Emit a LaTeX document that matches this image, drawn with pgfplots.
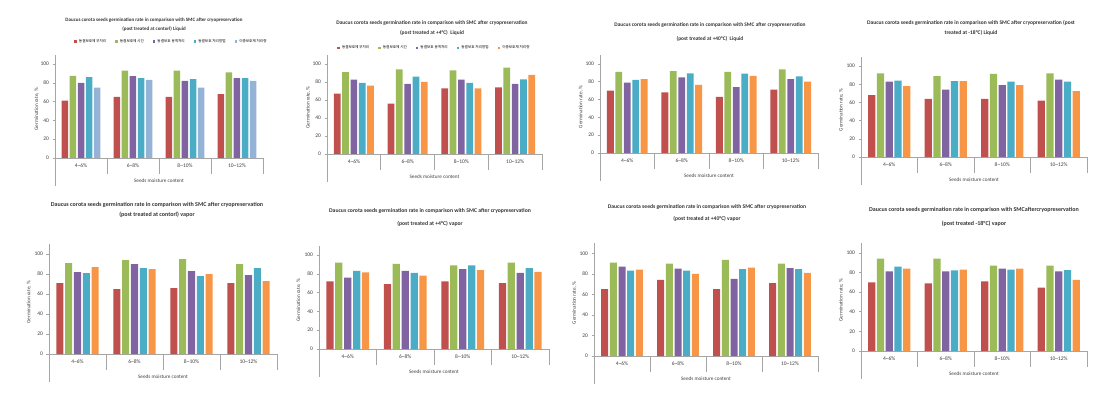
\documentclass[border=0pt]{standalone}
\usepackage{pgfplots}
\pgfplotsset{compat=1.18}
\usepackage{fontspec}
\setmainfont{Carlito}
\newfontfamily\cjk{Noto Sans CJK KR}
\definecolor{cR}{HTML}{C0504D}
\definecolor{cG}{HTML}{9BBB59}
\definecolor{cP}{HTML}{8064A2}
\definecolor{cT}{HTML}{4BACC6}
\definecolor{cL}{HTML}{95B3D7}
\definecolor{cO}{HTML}{F79646}
\definecolor{axgray}{HTML}{A6A6A6}

\pgfplotsset{
  panel/.style={
    scale only axis, clip=false,
    /pgf/number format/assume math mode=true,
    ymin=0, ymax=110, xmin=-0.5, xmax=3.5,
    ytick={0,20,40,60,80,100},
    xtick={0,1,2,3},
    xticklabels={4\textasciitilde6\%,6\textasciitilde8\%,8\textasciitilde10\%,10\textasciitilde12\%},
    minor xtick={-0.5,0.5,1.5,2.5,3.5},
    major x tick style={draw=none},
    tick align=outside,
    major tick length=2.5pt,
    minor tick length=16pt,
    axis x line*=bottom, axis y line*=left,
    axis line style={axgray, line width=0.6pt},
    tick style={axgray, line width=0.6pt},
    tick label style={font=\fontsize{5.5}{6}\selectfont, text=black!75},
    label style={font=\fontsize{5.2}{6}\selectfont, text=black!75},
    xlabel={Seeds moisture content},
    ylabel={Germination rate, \%},
    xlabel style={at={(axis description cs:0.5,0)}, anchor=center, yshift=-23pt},
    ylabel style={at={(axis description cs:-0.088,0.47)}, anchor=center},
    ybar, bar width=0.125,
    legend style={draw=none, fill=none, font=\cjk\fontsize{3.6}{4.5}\selectfont,
      /tikz/every even column/.append style={column sep=7pt}},
    legend columns=5,
    execute at end axis={\draw[axgray, line width=0.6pt] (rel axis cs:0,0) -- ++(0pt,-28pt);},
  },
  b/.style={fill=#1, draw=none,
    legend image code/.code={\fill[fill=#1] (0pt,-1.3pt) rectangle (2.6pt,1.3pt);}},
  s1/.style={bar shift=-0.31},
  s2/.style={bar shift=-0.155},
  s3/.style={bar shift=0},
  s4/.style={bar shift=0.155},
  s5/.style={bar shift=0.31},
}
\newcommand\ttl[6]{%
  \node[font=\bfseries\fontsize{#1}{#1}\selectfont, text=black!80] at (#2pt,#3pt) {#5};
  \node[font=\bfseries\fontsize{#1}{#1}\selectfont, text=black!80] at (#2pt,#4pt) {#6};}

\begin{document}
\begin{tikzpicture}
\useasboundingbox (0pt,0pt) rectangle (1109pt,405pt);

% ---------- Panel 1 ----------
\ttl{5}{154}{385}{376}{Daucus corota seeds germination rate in comparison with SMC after cryopreservation}{(post treated at contorl) Liquid}
\begin{axis}[panel, at={(55pt,247pt)}, anchor=south west, width=208pt, height=103.4pt,
  legend style={at={(0.56,1.126)}, anchor=center}]
\addplot[b=cR, s1] coordinates {(0,61) (1,65) (2,65) (3,68)};
\addplot[b=cG, s2] coordinates {(0,87.5) (1,93) (2,93) (3,91)};
\addplot[b=cP, s3] coordinates {(0,80) (1,87) (2,82) (3,85)};
\addplot[b=cT, s4] coordinates {(0,86) (1,85) (2,84) (3,85)};
\addplot[b=cL, s5] coordinates {(0,75) (1,83) (2,75) (3,82)};
\legend{동결보호제 무처리,동결보호제 시간,동결보호 용액처리,동결보호 처리방법,이중보호제 처리량}
\end{axis}

% ---------- Panel 2 ----------
\ttl{5.4}{432}{382}{372}{Daucus corota seeds germination rate in comparison with SMC after cryopreservation}{(post treated at +4°C)\ \ Liquid}
\begin{axis}[panel, at={(327pt,251pt)}, anchor=south west, width=215pt, height=99pt,
  legend style={at={(0.5,1.07)}, anchor=center}]
\addplot[b=cR, s1] coordinates {(0,67) (1,56) (2,73) (3,74)};
\addplot[b=cG, s2] coordinates {(0,91) (1,94) (2,93) (3,96)};
\addplot[b=cP, s3] coordinates {(0,82.5) (1,78) (2,82.5) (3,78)};
\addplot[b=cT, s4] coordinates {(0,79) (1,86) (2,79) (3,83)};
\addplot[b=cO, s5] coordinates {(0,76) (1,80) (2,73) (3,88)};
\legend{동결보호제 무처리,동결보호제 시간,동결보호 용액처리,동결보호 처리방법,이중보호제 처리량}
\end{axis}

% ---------- Panel 3 ----------
\ttl{5.4}{710}{380}{366}{Daucus corota seeds germination rate in comparison with SMC after cryopreservation}{(post treated at +40°C)\ \ Liquid}
\begin{axis}[panel, at={(600pt,252pt)}, anchor=south west, width=218pt, height=98pt]
\addplot[b=cR, s1] coordinates {(0,70) (1,68) (2,63) (3,71)};
\addplot[b=cG, s2] coordinates {(0,91) (1,92) (2,91) (3,94)};
\addplot[b=cP, s3] coordinates {(0,79) (1,85) (2,74) (3,83)};
\addplot[b=cT, s4] coordinates {(0,82) (1,89.5) (2,89) (3,86)};
\addplot[b=cO, s5] coordinates {(0,83) (1,76.5) (2,86.5) (3,80)};
\end{axis}

% ---------- Panel 4 ----------
\ttl{5.5}{971}{382}{372}{Daucus corota seeds germination rate in comparison with SMC after cryopreservation (post}{treated at -18°C) Liquid}
\begin{axis}[panel, at={(861pt,248pt)}, anchor=south west, width=226pt, height=100pt]
\addplot[b=cR, s1] coordinates {(0,68) (1,64) (2,64) (3,62)};
\addplot[b=cG, s2] coordinates {(0,92) (1,89) (2,91.5) (3,92)};
\addplot[b=cP, s3] coordinates {(0,83) (1,74) (2,79) (3,85)};
\addplot[b=cT, s4] coordinates {(0,84) (1,83.5) (2,83) (3,83)};
\addplot[b=cO, s5] coordinates {(0,78) (1,83.5) (2,79) (3,72.5)};
\end{axis}

% ---------- Panel 5 ----------
\ttl{6}{157}{200}{190}{Daucus corota seeds germination rate in comparison with SMC after cryopreservation}{(post treated at contorl) vapor}
\begin{axis}[panel, at={(49pt,51pt)}, anchor=south west, width=228pt, height=110pt]
\addplot[b=cR, s1] coordinates {(0,71) (1,65) (2,66) (3,71)};
\addplot[b=cG, s2] coordinates {(0,91) (1,94) (2,95) (3,90)};
\addplot[b=cP, s3] coordinates {(0,82) (1,90) (2,83) (3,79)};
\addplot[b=cT, s4] coordinates {(0,81) (1,86) (2,78) (3,86)};
\addplot[b=cO, s5] coordinates {(0,87) (1,85) (2,80) (3,73)};
\end{axis}

% ---------- Panel 6 ----------
\ttl{5.7}{430}{194}{181}{Daucus corota seeds germination rate in comparison with SMC after cryopreservation}{(post treated at +4°C) vapor}
\begin{axis}[panel, at={(319pt,56pt)}, anchor=south west, width=230pt, height=103.4pt]
\addplot[b=cR, s1] coordinates {(0,72) (1,69) (2,72) (3,70)};
\addplot[b=cG, s2] coordinates {(0,92) (1,90.5) (2,89) (3,92)};
\addplot[b=cP, s3] coordinates {(0,76) (1,83) (2,85) (3,81)};
\addplot[b=cT, s4] coordinates {(0,83) (1,81) (2,89) (3,86)};
\addplot[b=cO, s5] coordinates {(0,81.5) (1,78) (2,84) (3,82)};
\end{axis}

% ---------- Panel 7 ----------
\ttl{5.6}{707}{198}{186}{Daucus corota seeds germination rate in comparison with SMC after cryopreservation}{(post treated at +40°C) vapor}
\begin{axis}[panel, at={(594pt,49pt)}, anchor=south west, width=224pt, height=113pt]
\addplot[b=cR, s1] coordinates {(0,65) (1,74) (2,65) (3,71)};
\addplot[b=cG, s2] coordinates {(0,91) (1,90) (2,93.5) (3,90)};
\addplot[b=cP, s3] coordinates {(0,87) (1,85) (2,75) (3,85.5)};
\addplot[b=cT, s4] coordinates {(0,83) (1,83) (2,84.5) (3,84.5)};
\addplot[b=cO, s5] coordinates {(0,84) (1,80) (2,86) (3,81)};
\end{axis}

% ---------- Panel 8 ----------
\ttl{6}{974}{195}{181}{Daucus corota seeds germination rate in comparison with SMCaftercryopreservation}{(post treated -18°C) vapor}
\begin{axis}[panel, at={(861pt,54pt)}, anchor=south west, width=226pt, height=108pt]
\addplot[b=cR, s1] coordinates {(0,70) (1,69) (2,71) (3,64.5)};
\addplot[b=cG, s2] coordinates {(0,94) (1,94) (2,87) (3,87)};
\addplot[b=cP, s3] coordinates {(0,81) (1,81) (2,84) (3,81)};
\addplot[b=cT, s4] coordinates {(0,86) (1,82) (2,83) (3,82.5)};
\addplot[b=cO, s5] coordinates {(0,84) (1,83) (2,84) (3,72.5)};
\end{axis}
\end{tikzpicture}
\end{document}
